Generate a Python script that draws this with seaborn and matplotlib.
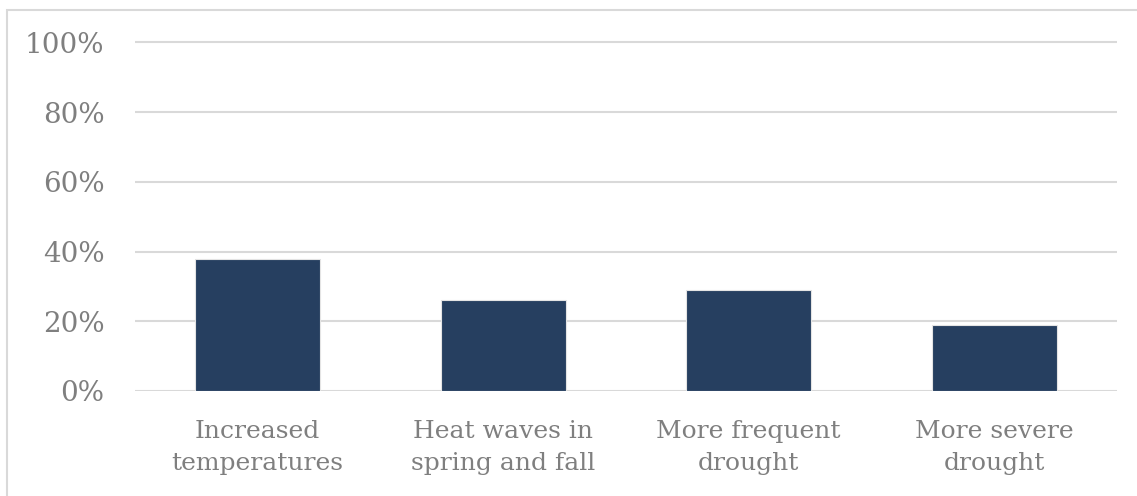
import matplotlib
matplotlib.use("Agg")
import matplotlib.pyplot as plt
from matplotlib.patches import Rectangle
from matplotlib.ticker import PercentFormatter
import seaborn as sns
import pandas as pd

categories = [
    "Increased\ntemperatures",
    "Heat waves in\nspring and fall",
    "More frequent\ndrought",
    "More severe\ndrought",
]
shares = [0.38, 0.26, 0.29, 0.19]
y_ticks = [0.0, 0.2, 0.4, 0.6, 0.8, 1.0]

bar_color = "#263F60"
grid_color = "#D9D9D9"
text_color = "#7F7F7F"

sns.set_theme(style="white")
plt.rcParams["font.family"] = ["DejaVu Serif"]

df = pd.DataFrame({"category": categories, "share": shares})

fig = plt.figure(figsize=(11.37, 4.96), dpi=100)
ax = fig.add_axes([0.1187, 0.2117, 0.8637, 0.7167])

sns.barplot(data=df, x="category", y="share", color=bar_color,
            saturation=1, width=0.51, ax=ax, zorder=3)

for p in ax.patches:
    p.set_edgecolor("#E4E4E4")
    p.set_linewidth(0.8)

ax.set_ylim(0, 1.02)
ax.set_xlim(-0.5, len(categories) - 0.5)
ax.set_yticks(y_ticks)
ax.yaxis.set_major_formatter(PercentFormatter(1.0, decimals=0))
for y in y_ticks:
    ax.axhline(y, color=grid_color, linewidth=1.5, zorder=1)

for side in ["top", "right", "left", "bottom"]:
    ax.spines[side].set_visible(False)

ax.set_xlabel("")
ax.set_ylabel("")
ax.tick_params(axis="y", length=0, pad=22, labelsize=20, labelcolor=text_color)
ax.tick_params(axis="x", length=0, pad=21, labelsize=18, labelcolor=text_color)
for lbl in ax.get_xticklabels():
    lbl.set_linespacing(1.5)

# chart frame
fig.patches.append(Rectangle((7 / 1137, -0.01), 1.02, 1 - 10 / 496 + 0.01,
                             transform=fig.transFigure, fill=False,
                             edgecolor="#D9D9D9", linewidth=1.5))

fig.savefig("out.png", dpi=100, facecolor="white")
